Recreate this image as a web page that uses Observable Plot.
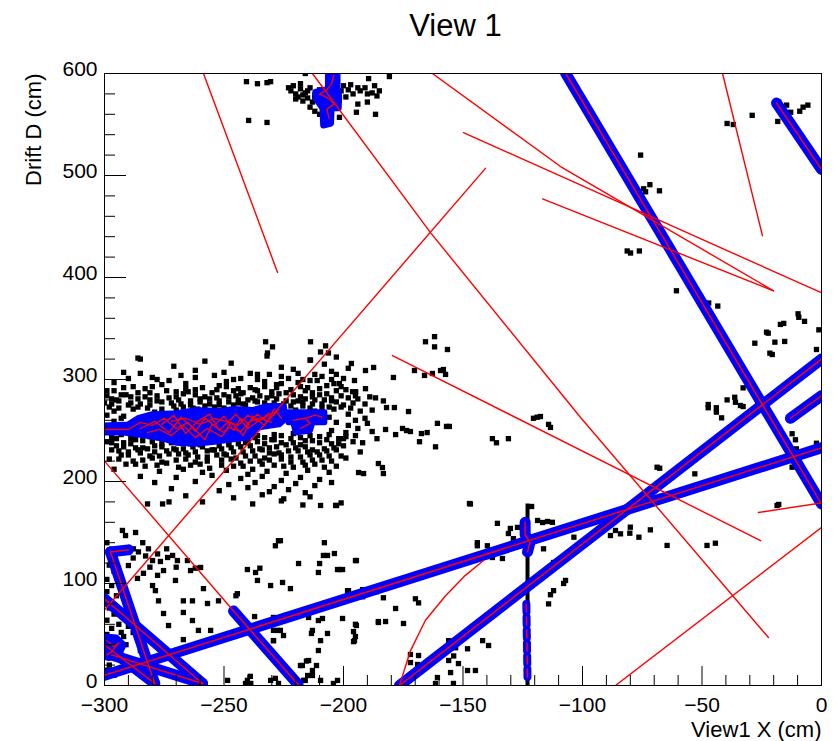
<!DOCTYPE html>
<html><head><meta charset="utf-8">
<script src="https://cdn.jsdelivr.net/npm/d3@7"></script>
<script src="https://cdn.jsdelivr.net/npm/@observablehq/plot@0.6"></script>
<style>body{margin:0;background:#fff;}</style>
</head><body><div id="chart"></div>
<script>
// ---------- axis ticks ----------
const xMajor = [-300,-250,-200,-150,-100,-50,0];
const xMinor = [-290,-280,-270,-260,-240,-230,-220,-210,-190,-180,-170,-160,-140,-130,-120,-110,-90,-80,-70,-60,-40,-30,-20,-10];
const yMajor = [0,100,200,300,400,500,600];
const yMinor = [20,40,60,80,120,140,160,180,220,240,260,280,320,340,360,380,420,440,460,480,520,540,560,580];

// ---------- hits (black squares) ----------
const hitsTop = [[-240.6,592],[-236,590],[-232,591],[-230.5,592],[-239.7,554],[-232,552],[-216,600],[-189.5,595],[-180.8,597],[-194,570],[-190,572],[-186.6,560],[-194.6,562],[-201.7,557],
[-222,583],[-220,580],[-218,585],[-219,577],[-216,581],[-215,576],[-214,586],[-212,579],[-213,572],[-217,573],[-210,584],[-211,574],[-209,570],[-221,588],[-218,590],[-200,588],[-198,584],[-196,580],[-193,583],[-191,586],[-188,581],[-186,578],[-187,588],[-199,577],[-203,573],[-214,567],[-212,563],[-210,560],
[-223,586],[-220,575],[-217,579],[-215,583],[-212,576],[-209,581],[-207,577],[-201,583],[-197,589],[-194,586],[-190,580],[-185,583]];
const hitsCluster = [[-286,321],[-258,318],[-232,323],[-214,319],[-203,322],[-271,313],[-247,316],[-226,312],[-208,315],[-198,311],
[-292,307],[-262,309],[-239,306],[-221,310],[-212,305],[-205,308],[-280,302],[-254,304],[-243,301],[-231,305],[-217,300],[-209,303],[-200,301],
[-296,297],[-273,299],[-266,296],[-249,298],[-236,300],[-228,295],[-219,297],[-211,299],[-204,296],
[-288,293],[-276,295],[-259,292],[-252,294],[-244,291],[-233,293],[-226,296],[-215,292],[-207,294],[-199,290],
[-299,289],[-283,291],[-270,288],[-262,290],[-255,287],[-246,289],[-239,292],[-230,288],[-222,290],[-213,287],[-203,289],
[-293,285],[-286,287],[-278,284],[-267,286],[-258,283],[-250,285],[-242,287],[-235,284],[-227,286],[-218,283],[-210,285],[-201,284],
[-297,281],[-289,283],[-281,280],[-273,282],[-264,279],[-256,281],[-248,283],[-240,280],[-232,282],[-224,279],[-216,281],[-208,280],[-198,282],
[-300,277],[-294,279],[-285,276],[-276,278],[-268,276],[-260,278],[-252,275],[-244,277],[-237,279],[-229,277],[-221,278],[-213,276],[-205,279],[-196,277],
[-298,273],[-290,275],[-282,272],[-271,274],[-263,272],[-254,273],[-246,275],[-233,273],[-225,271],[-217,274],[-209,272],[-201,273],
[-296,269],[-288,271],[-279,268],[-270,270],[-261,271],[-238,268],[-220,270],[-212,269],[-204,271],[-193,269],
[-299,265],[-292,264],[-214,265],[-206,263],[-198,266],[-191,262],[-296,259],[-293,262],[-203,258],[-198,255],[-195,260],[-190,257],
[-205,250],[-199,248],[-194,252],[-188,249],
[-297,243],[-289,242],[-281,244],[-272,242],[-265,240],[-256,242],[-248,238],[-240,240],[-233,243],[-226,245],[-218,243],[-210,244],[-202,242],[-195,245],
[-299,239],[-292,238],[-284,240],[-276,237],[-268,239],[-260,236],[-252,235],[-244,237],[-236,239],[-229,241],[-221,238],[-213,240],[-205,237],[-196,239],
[-295,235],[-287,233],[-279,235],[-271,232],[-263,234],[-255,231],[-247,233],[-239,235],[-231,233],[-224,236],[-216,234],[-208,232],[-200,235],
[-297,231],[-290,229],[-282,232],[-274,230],[-266,228],[-257,230],[-250,227],[-242,229],[-234,231],[-227,228],[-219,230],[-211,229],[-203,231],
[-293,226],[-285,228],[-277,225],[-269,227],[-261,224],[-253,226],[-245,223],[-237,225],[-229,227],[-222,224],[-214,226],[-206,225],
[-298,222],[-288,220],[-280,223],[-270,221],[-262,219],[-251,221],[-243,218],[-235,220],[-226,222],[-217,219],[-209,221],[-199,223],
[-291,217],[-283,215],[-274,218],[-264,216],[-256,213],[-246,215],[-238,212],[-229,216],[-221,214],[-212,217],[-203,215],
[-296,212],[-277,210],[-267,212],[-259,209],[-249,211],[-240,207],[-232,210],[-224,208],[-215,211],[-206,209],
[-285,205],[-270,204],[-255,206],[-243,203],[-234,205],[-226,201],[-218,204],[-210,202],
[-279,199],[-262,200],[-248,197],[-237,199],[-229,195],[-220,198],[-212,196],[-205,199],
[-272,193],[-252,191],[-240,194],[-231,190],[-223,192],[-216,189],[-266,186],[-246,184],[-234,187],[-225,183],[-214,185],
[-259,180],[-238,178],[-226,181],[-217,177],[-201,179],
[-232.6,337],[-229.7,332],[-231.8,326],[-213.8,337],[-207.5,333],[-209.6,327],[-206.3,326],[-213.8,319],[-285,320]];
const hitsClusterCore = [[-296,289],[-281,287],[-274,289],[-265,288],[-253,290],[-243,286],[-236,289],[-224,287],[-216,289],[-207,286],
[-299,284],[-291,285],[-283,283],[-270,283],[-262,285],[-253,282],[-245,284],[-238,282],[-230,284],[-221,285],[-213,283],[-205,282],[-195,284],
[-295,280],[-286,281],[-278,279],[-269,280],[-260,281],[-252,279],[-244,280],[-236,278],[-228,281],[-219,279],[-212,280],[-203,278],
[-297,276],[-289,277],[-281,275],[-272,277],[-264,275],[-256,276],[-248,278],[-241,275],[-233,277],[-225,276],[-217,278],[-209,276],[-200,275],
[-294,272],[-286,273],[-276,271],[-267,273],[-258,274],[-250,272],[-242,276],[-230,272],[-222,274],[-214,272],[-206,273],[-197,272],
[-293,246],[-285,247],[-276,245],[-268,247],[-260,246],[-253,244],[-244,246],[-236,245],[-229,246],[-221,247],[-214,245],[-206,246],[-199,244],
[-295,242],[-287,241],[-278,243],[-269,241],[-261,243],[-253,240],[-245,242],[-237,243],[-230,241],[-222,242],[-216,240],[-207,241],[-200,242],
[-297,238],[-289,237],[-280,239],[-272,238],[-264,237],[-256,239],[-248,236],[-241,238],[-233,237],[-226,238],[-218,236],[-210,238],[-202,237],
[-292,234],[-284,233],[-276,234],[-267,232],[-259,234],[-251,232],[-243,234],[-235,232],[-228,234],[-220,233],[-213,231],[-204,233],
[-294,230],[-286,231],[-279,229],[-270,231],[-262,229],[-254,231],[-246,229],[-238,230],[-231,228],[-223,230],[-215,229],[-207,230],
[-290,226],[-281,225],[-273,227],[-265,226],[-257,224],[-249,226],[-241,225],[-233,223],[-226,226],[-218,224],[-210,226],[-201,225],
[-294,222],[-284,221],[-276,219],[-266,222],[-257,220],[-247,222],[-239,220],[-231,221],[-222,219],[-213,221],[-205,220],
[-287,217],[-278,216],[-269,214],[-260,217],[-251,216],[-242,215],[-234,217],[-225,215],[-216,216],[-208,214],
[-290,301],[-278,300],[-262,302],[-246,300],[-233,298],[-223,301],[-214,299],[-205,300],
[-285,306],[-268,304],[-250,307],[-236,305],[-226,303],[-219,306],[-203,305],
[-292,292],[-280,293],[-266,291],[-249,293],[-237,290],[-228,292],[-218,293],[-210,291],[-201,293],
[-191,276],[-189,283],[-192,238],[-186,242],[-193,229],[-188,270],[-194,281]];
const hitsLowerLeft = [[-291.2,147],[-292.5,152],[-287,150],[-287.9,134],[-285.8,131],[-282.8,127],[-281.6,134],[-279.9,122.5],[-277.8,129],[-276.6,121.6],[-275.3,112.7],[-277.8,108],[-273.6,125.5],[-271.5,127.5],[-279.9,98],[-278.7,93],[-283.7,110],[-286.2,105],[-290,117.6],[-277.4,83],[-270.3,103],[-269.5,122.5],[-265.3,122.5],[-264,112.7],[-262,115],[-259.8,115.7],[-267,83],[-263.2,83],[-267,71.6],[-258.6,95],[-256.9,80.4],[-260.7,54],[-255.6,54],[-252.3,83],[-263.2,63.7],[-273.2,58.8],[-275.3,70.6],[-267,45],[-284.1,44],[-285,34.3],[-286.2,24.5],
[-299,140],[-297,124],[-298,118],[-296,112],[-299,104],[-297,98],[-299,92],[-295,88],[-298,76],[-296,70],[-299,64],[-294,60],[-297,56],[-293,52],[-299,50],[-291,40],[-298,20],[-299,15],[-296,10],[-292,72],[-289,64],[-290,58],[-288,52],[-292,48],
[-282,178],[-275.7,178],[-273,180],[-284,140],[-274,134],[-270,116],[-281,116],[-288,125]];
const hitsLowerMid = [[-209.6,176.5],[-203.3,176.5],[-228.5,137],[-226.4,142],[-218.8,119.6],[-210,119.6],[-208.4,127.5],[-202.5,113.7],[-240.2,113.7],[-236.8,110.8],[-235,115],[-236,103],[-230.5,98],[-225.5,101],[-222.2,95],[-244.4,90],[-245,88],[-218.8,70.6],[-214.6,66.7],[-208.8,65.7],[-213,54],[-206.7,51],[-209.6,44],[-218,19.6],[-214.6,24.5],[-213,9.8],[-216.7,5],[-209.6,5],[-202.5,5],[-248.5,5],[-240.2,5],[-239,9],[-228.5,7],[-230.5,34],[-229.3,44],[-225.1,49],[-227.5,54],
[-227.2,142],[-208,140],[-203.8,129.4],[-206.7,127.5],[-194.6,122.5],[-210.5,110.8],[-201.7,113.7],[-197.9,93],[-185.8,95],[-237.2,67.6],[-229.3,66.7],[-224.3,68.6],[-210.5,63.7],[-200.4,65.7],[-185.4,61.8],[-194.6,58.8],[-229.3,54],[-226.4,54],[-229.3,44],[-213.4,51],[-195.8,52.9],[-195.4,44],[-210.5,34.3],[-217.2,19.6],[-215.5,24],[-213,14.7],[-211.3,19.6],[-215,9.8],[-241,2],[-238.8,2],[-230.5,5],[-227.2,2],[-216,5],[-204.2,2],
[-146.9,178],[-195,122.5],[-200.4,113.7],[-198.3,93],[-192,94],[-192,87],[-186.2,92],[-183.3,86],[-183.3,95],[-178.2,75.5],[-169.9,85],[-168.6,81],[-185.4,62.7],[-182.4,62.7],[-174.9,60.8],[-195,60],[-195,48],[-195.8,43],[-172,30.4],[-168.6,29.4],[-172,22.5],[-169,20.6],[-167.8,16.7],[-156,44],[-153.1,37],[-153.9,29],[-156,24.5],[-151.9,21.5],[-155.2,12.7],[-148.1,14.7],[-160.7,7.8],[-161.5,2],[-154,2],[-143.5,58.8],[-141.8,44],[-144.8,14.7],[-139.3,39.2],[-148.1,36],[-144,140],[-139.8,137],[-135.6,159],[-131,149],[-130.2,154],[-127.2,155],[-128.9,144],[-125.9,140],[-118.8,161.8],[-116.7,159.8],[-114.6,160.8],[-117.6,145],[-112.6,160],[-116.3,134],[-112.1,120.6],[-107.9,100],[-107.1,103],[-112.1,93],[-113.4,89],[-114.2,80],[-137.7,125.5],[-133.5,124.5],[-144,137]];
const hitsMiddle = [[-165.7,337],[-161.9,342],[-161.9,332],[-156.5,329.4],[-170.3,308.8],[-166.1,304],[-162.8,305.9],[-159.4,308.8],[-158.2,309.8],[-157.3,305],[-179.1,302],[-196.7,315.7],[-190.8,308.8],[-187.4,311.8],[-201.7,296],[-195.4,299],[-196.2,288],[-194.9,288],[-190.8,291],[-183.3,279],[-182,272.5],[-178.7,272.5],[-172.8,268.6],[-160.7,257],[-156.9,254],[-155.7,254],[-182.4,251],[-178.2,246],[-175.3,252],[-173.6,250],[-172,249],[-167.4,247],[-165,248],[-168.2,239],[-161.5,234],[-186.6,282],[-120.5,262],[-119,263],[-117.6,263.7],[-114.2,256],[-113.4,253],[-137.7,242],[-136,238],[-131,242],[-147.3,178.4],[-121.3,175.5],[-202.9,176.5],[-193.7,208.8],[-191.6,207.8],[-185.4,217.6],[-183.7,213.7],[-183.3,207.8]];
const hitsRight = [[-75.7,520],[-74.4,487],[-73.6,484],[-71.8,491],[-67.8,485],[-81.3,426],[-79.9,424],[-76.2,426],[-60.7,387],[-47.2,375],[-43.4,372],[-29,559],[-39.5,551],[-36.9,550],[-17.9,572],[-14.6,569],[-12.9,562],[-9.1,563],[-7.7,567],[-5.7,569],[-18.3,553],
[-9.8,364.4],[-9.5,361],[-7.1,357],[-17.2,354],[-15.8,355],[-1.1,348.7],[-23,346.4],[-22.3,345.4],[-27.9,335.6],[-19.5,336.6],[-15.4,337.3],[-21.6,325.8],[-20.6,324.5],[-2.1,329.4],[-32.8,291.8],[-47.4,275.5],[-47.4,272.3],[-44,272.3],[-44,268],[-41.8,262.4],[-39.5,280],[-36.3,282.6],[-36,277.7],[-33.9,274.5],[-32.8,273.5],[-12.3,246.8],[-10.9,240.9],[-2.1,237.5],[-10.5,232],[-12.3,214],[-68.8,214],[-67.7,213],[-53,207.5],[-18.6,176.5],[-17.9,177.5],[-71.6,152.6],[-103.6,145.4],[-93.2,165],[-86.2,152],[-84.1,148.7],[-80,155.2],[-80.2,149.3],[-76.4,145.4],[-88.3,147],[-64.6,137.3],[-47.9,137.3],[-44.4,139.5]];
const hitColumns = [{x:-123, y1:0, y2:178}];

// ---------- reconstructed tracks (blue, red core) ----------
const trackT1 = [[-107,600],[0,178]];
const trackT2 = [[-18.8,571],[0,506]];
const trackT3 = [[-300,10],[0,233]];
const trackT4 = [[-176.6,0],[0,320]];
const trackT5 = [[-13,262],[0,284]];
const trackT7 = [[-246,73],[-219,1]];
const trackL1 = [[-290,133],[-297.5,131]];
const trackL2 = [[-297.5,131],[-279,2]];
const trackL3 = [[-300,85],[-259,2]];
const trackL5 = [[-299,38],[-279,2]];
const trackL6 = [[-297,30],[-259,2]];
const trackV = [[-124,160],[-124,148],[-122,140],[-123,131]];
const trackVdash = [[-123.5,80],[-123,5]];

// ---------- blobs (filled blue, red fill lines) ----------
const blobMain = [[-300,255],[-290,256],[-286,262],[-280,266],[-270,267],[-262,270],[-252,269],[-246,271],[-238,270],[-232,274],[-225,274],[-224,262],[-227,256],[-236,253],[-240,243],[-248,241],[-254,239],[-262,237],[-270,238],[-274,241],[-280,244],[-286,246],[-292,248],[-300,248]];
const blobSide = [[-223,268],[-208,268],[-208,258],[-213,258],[-214,250],[-220,248],[-221,258],[-223,258]];
const blobTop = [[-206.5,600],[-202.5,600],[-202.5,585],[-201.8,578],[-202,566],[-205,566],[-205.2,551],[-208.5,549],[-208.8,566],[-211.5,575],[-211.8,582],[-206.5,585]];
const blobLow = [[-300,48],[-295,47],[-292,40],[-294,30],[-298,27],[-300,28]];
const blobRed1 = [[-300,251],[-290,251],[-285,258],[-280,255],[-275,262],[-270,252],[-265,258],[-262,249],[-258,262],[-254,255],[-250,264],[-246,250],[-243,262],[-240,257],[-236,266],[-232,259],[-228,268],[-226,262]];
const blobRed2 = [[-285,252],[-279,259],[-273,248],[-268,263],[-263,253],[-258,241],[-255,256],[-250,248],[-247,258],[-242,245],[-238,264],[-233,255],[-229,271]];
const blobRed3 = [[-276,256],[-271,265],[-266,247],[-261,259],[-256,266],[-252,250],[-245,266],[-240,252],[-234,262],[-231,267]];
const blobRed8 = [[-282,248],[-277,251],[-272,245],[-267,255],[-262,243],[-257,252],[-251,244],[-248,253],[-243,249],[-239,259],[-235,262],[-230,258]];
const blobRed9 = [[-272,259],[-266,262],[-260,256],[-254,262],[-249,259],[-244,255],[-240,265],[-236,259],[-232,264],[-227,270]];
const blobRed4 = [[-221,260],[-216,262],[-212,265],[-209,263]];
const blobRed5 = [[-218,252],[-214,257],[-216,262]];
const blobRed6 = [[-204,598],[-205,590],[-207,584],[-210,580],[-206,575],[-204,570],[-207,565],[-206,556]];
const blobRed7 = [[-299,44],[-296,38],[-294,42],[-297,33],[-299,30]];

// ---------- thin red lines (true tracks) ----------
const redR1 = [[-258.6,600],[-227.6,405]];
const redR2 = [[-213,600],[-163.6,444],[-100.8,262.7],[-22.2,47]];
const redR3 = [[-300,220],[-246,73]];
const redR4 = [[-300,74],[-140.6,507]];
const redR5 = [[-179.5,323.5],[-25.5,142]];
const redR8 = [[-41.4,600],[-24.7,441]];
const redR9 = [[-176.6,0],[-172,34],[-165.7,64],[-157.3,88],[-149,108],[-141.4,122.5]];
const redR10 = [[-86.2,0],[0,155]];
const redR11 = [[-26.4,169.6],[0,179]];
const redRa = [[-162.8,600],[-109.2,508.8],[-20.1,387]];
const redRb = [[-149.8,542],[0,385]];
const redRc = [[-116.7,477],[-20.1,387]];

// ---------- build tables ----------
const rows = list => list.flatMap(([id, pts]) => pts.map(([x, y]) => ({id, x, y})));
const hits = [...hitsTop, ...hitsCluster, ...hitsClusterCore, ...hitsLowerLeft, ...hitsLowerMid, ...hitsMiddle, ...hitsRight];
const blueRows = rows([["T1",trackT1],["T2",trackT2],["T3",trackT3],["T4",trackT4],["T5",trackT5],["T7",trackT7],["L1",trackL1],["L2",trackL2],["L3",trackL3],["L5",trackL5],["L6",trackL6],["V",trackV]]);
const dashRows = rows([["Vd",trackVdash]]);
const blobRows = rows([["bm",blobMain],["bs",blobSide],["bt",blobTop],["bl",blobLow]]);
const blobRedRows = rows([["r1",blobRed1],["r2",blobRed2],["r3",blobRed3],["r8",blobRed8],["r9",blobRed9],["r4",blobRed4],["r5",blobRed5],["r6",blobRed6],["r7",blobRed7]]);
const redRows = rows([["R1",redR1],["R2",redR2],["R3",redR3],["R4",redR4],["R5",redR5],["R8",redR8],["R9",redR9],["R10",redR10],["R11",redR11],["Ra",redRa],["Rb",redRb],["Rc",redRc]]);

const fmt = d => d < 0 ? "\u2212" + Math.abs(d) : String(d);
const FH = 612, FW = 717;
const BLUE = "#0000ff", RED = "#ff0000";

const chart = Plot.plot({
  width: 838, height: 741,
  marginLeft: 104, marginRight: 17, marginTop: 73, marginBottom: 56,
  x: {domain: [-300, 0], axis: null},
  y: {domain: [0, 600], axis: null},
  style: {fontFamily: "'Liberation Sans', Arial, sans-serif", fontSize: "21px", background: "white", color: "black"},
  marks: [
    Plot.dot(hits, {x: d => d[0], y: d => d[1], symbol: "square", r: 3, fill: "black", stroke: null, clip: true}),
    Plot.ruleX(hitColumns, {x: "x", y1: "y1", y2: "y2", stroke: "black", strokeWidth: 4}),
    Plot.line(blueRows, {x: "x", y: "y", z: "id", stroke: BLUE, strokeWidth: 11, strokeLinecap: "round", strokeLinejoin: "round", clip: true}),
    Plot.line(dashRows, {x: "x", y: "y", z: "id", stroke: BLUE, strokeWidth: 8, strokeDasharray: "8,5", clip: true}),
    Plot.line(blobRows, {x: "x", y: "y", z: "id", fill: BLUE, stroke: BLUE, strokeWidth: 6, strokeLinejoin: "round", curve: "linear-closed", clip: true}),
    Plot.line(blueRows, {x: "x", y: "y", z: "id", stroke: RED, strokeWidth: 1.5, clip: true}),
    Plot.line(dashRows, {x: "x", y: "y", z: "id", stroke: RED, strokeWidth: 1.5, strokeDasharray: "8,5", clip: true}),
    Plot.line(blobRedRows, {x: "x", y: "y", z: "id", stroke: RED, strokeWidth: 1.3, clip: true}),
    Plot.line(redRows, {x: "x", y: "y", z: "id", stroke: RED, strokeWidth: 1.4, clip: true}),
    Plot.frame({stroke: "black", strokeWidth: 1}),
    Plot.tickX(xMajor, {x: d => d, insetTop: FH - 19, stroke: "black"}),
    Plot.tickX(xMinor, {x: d => d, insetTop: FH - 10, stroke: "black"}),
    Plot.tickY(yMajor, {y: d => d, insetRight: FW - 22, stroke: "black"}),
    Plot.tickY(yMinor, {y: d => d, insetRight: FW - 11, stroke: "black"}),
    Plot.text(xMajor, {x: d => d, frameAnchor: "bottom", dy: 12, lineAnchor: "top", text: fmt, fontSize: 21, fill: "black"}),
    Plot.text(yMajor, {y: d => d, frameAnchor: "left", dx: -7, dy: -4, textAnchor: "end", text: fmt, fontSize: 21, fill: "black"}),
    Plot.text(["View1 X (cm)"], {frameAnchor: "bottom-right", dy: 36, dx: 0, lineAnchor: "top", textAnchor: "end", fontSize: 22, fill: "black"}),
    Plot.text(["Drift D (cm)"], {frameAnchor: "top-left", dx: -71, dy: 0, rotate: -90, textAnchor: "end", lineAnchor: "middle", fontSize: 22, fill: "black"}),
    Plot.text(["View 1"], {frameAnchor: "top-left", dx: 351, dy: -47, textAnchor: "middle", lineAnchor: "middle", fontSize: 31, fill: "black"})
  ]
});
document.getElementById("chart").appendChild(chart);
</script></body></html>
